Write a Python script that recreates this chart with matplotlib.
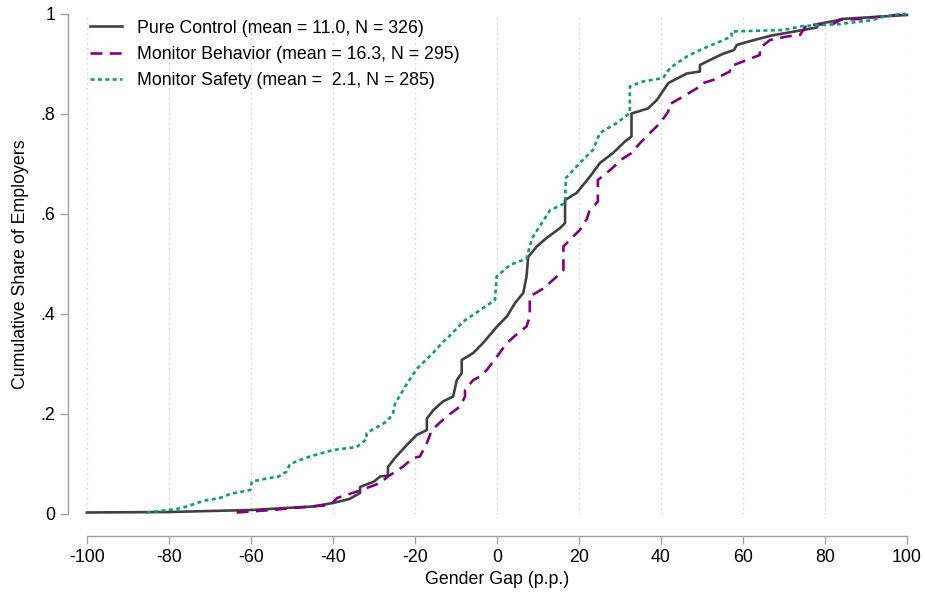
import matplotlib
matplotlib.use("Agg")
import matplotlib.pyplot as plt

plt.rcParams['font.family'] = ['Liberation Sans', 'DejaVu Sans']

series_names = ["Pure Control (mean = 11.0, N = 326)",
                "Monitor Behavior (mean = 16.3, N = 295)",
                "Monitor Safety (mean =  2.1, N = 285)"]

control_x = [-100, -80, -60, -45, -40, -36, -33.4, -33.4, -30, -28.5, -26.6, -26.6, -24.9, -22, -19.6,
             -17.1, -17.1, -15.5, -13.2, -10.7, -9.8, -8.6, -8.6, -5.8, -3.4, 0, 2.4, 4.4, 6.4, 7.2, 7.6,
             9.7, 12.1, 15.4, 16.6, 16.6, 19.4, 22.7, 25.1, 28.3, 31.2, 32.8, 32.8, 36.8, 39, 41.8, 46.3,
             49.5, 49.5, 52.7, 55, 57.8, 58.5, 60.5, 63.7, 67, 73.9, 78, 78.3, 82.8, 84, 100]
control_y = [.003, .004, .008, .015, .022, .03, .042, .054, .065, .075, .077, .094, .112, .138, .158,
             .168, .191, .208, .225, .235, .268, .282, .308, .322, .342, .375, .395, .422, .442, .475, .514,
             .535, .552, .572, .582, .628, .642, .675, .702, .722, .745, .755, .801, .811, .828, .862, .881,
             .885, .898, .911, .92, .928, .938, .943, .95, .957, .967, .973, .98, .987, .99, .998]

behavior_x = [-63.5, -55, -49.7, -40.7, -39, -33.4, -28.5, -26.6, -22.9, -20.5, -18.8, -17.1, -15.9, -12.3,
              -9, -7.8, -7.8, -5.8, -4.1, -2.5, 0, 2.4, 5.6, 7.2, 8, 8, 11.3, 14.6, 16.2, 16.2, 18.6, 20.2,
              21.9, 22.5, 24.6, 24.6, 27.6, 30.7, 32.8, 34.9, 37.3, 39.8, 41.8, 41.8, 45.4, 48.7, 49.9,
              52.7, 56.8, 56.8, 60, 64.1, 64.1, 66.6, 70.7, 73.9, 75.5, 82, 83.7, 88, 95, 100]
behavior_y = [.003, .008, .012, .018, .032, .047, .062, .075, .095, .112, .115, .142, .168, .195,
              .215, .235, .248, .268, .275, .288, .315, .342, .365, .375, .395, .435, .451, .475, .488, .535, .555, .568,
              .59, .605, .625, .668, .688, .711, .722, .742, .762, .782, .805, .818, .835, .851, .861,
              .868, .885, .895, .905, .918, .932, .948, .955, .958, .978, .98, .988, .99, .996, 1.0]

safety_x = [-85.4, -82.2, -78.1, -75.7, -73.2, -71.2, -67.6, -65.1, -60.2, -59.8, -56.2, -53.3, -51.3, -50.5,
            -48, -45.6, -40, -34.2, -31.8, -31.8, -26.9, -25.4, -24.9, -22, -19.6, -15.6, -13.1, -12.3, -8.2,
            -4.1, -0.5, -0.1, 3.2, 7.2, 8.5, 12.9, 16.6, 16.8, 20.2, 23.4, 25.1, 29.2, 32.4, 32.4, 35.6,
            40.5, 42.2, 46.3, 49.5, 54.4, 57.2, 57.2, 69.8, 74.6, 83.7, 91.7, 93.4, 98.3, 100]
safety_y = [.003, .006, .01, .015, .022, .027, .032, .04, .048, .065, .071, .075, .085, .1,
            .108, .115, .128, .134, .15, .162, .185, .2, .22, .26, .29, .322, .345, .35, .385,
            .408, .428, .475, .498, .511, .551, .607, .622, .672, .702, .728, .762, .782, .802, .855, .865,
            .872, .892, .915, .928, .945, .955, .965, .968, .976, .98, .988, .993, 1.0, 1.0]

x_ticks = [-100, -80, -60, -40, -20, 0, 20, 40, 60, 80, 100]
y_ticks = [0, .2, .4, .6, .8, 1]
y_ticklabels = ["0", ".2", ".4", ".6", ".8", "1"]

FS = 12.8

fig = plt.figure(figsize=(9.25, 5.95), dpi=100)
ax = fig.add_axes([87/925, (595-514)/595, 820/925, 500/595])

lw = 1.9
ax.plot(control_x, control_y, color="#404040", lw=lw, label=series_names[0], clip_on=False, zorder=3)
ax.plot(behavior_x, behavior_y, color="#800080", lw=lw, dashes=(4.5, 2.8), label=series_names[1],
        clip_on=False, zorder=3)
ax.plot(safety_x, safety_y, color="#0f9b78", lw=lw, dashes=(1.5, 1.3), label=series_names[2],
        clip_on=False, zorder=3)

ax.set_xlim(-100, 100)
ax.set_ylim(0, 1)
ax.set_xticks(x_ticks)
ax.set_xticklabels([str(t) for t in x_ticks])
ax.set_yticks(y_ticks)
ax.set_yticklabels(y_ticklabels)

for v in x_ticks:
    ax.axvline(v, color="#c8c8c8", lw=0.9, ls=(0, (1, 3)), zorder=1)

for s in ["top", "right"]:
    ax.spines[s].set_visible(False)
ax.spines["left"].set_position(("outward", 14))
ax.spines["bottom"].set_position(("outward", 16))
for s in ["left", "bottom"]:
    ax.spines[s].set_color("#a0a0a0")
    ax.spines[s].set_linewidth(1.0)
ax.tick_params(axis="both", colors="#a0a0a0", length=6, width=1.0, labelsize=FS, labelcolor="black")
ax.tick_params(axis="y", pad=3)
ax.tick_params(axis="x", pad=3)

ax.set_xlabel("Gender Gap (p.p.)", fontsize=FS, labelpad=4)
ax.set_ylabel("Cumulative Share of Employers", fontsize=FS, labelpad=8)

leg = ax.legend(loc="upper left", bbox_to_anchor=(-0.001, 0.996), frameon=False, fontsize=FS,
                handlelength=1.8, handletextpad=0.85, labelspacing=0.53, borderaxespad=0.0,
                borderpad=0.2)

fig.savefig("out.png", dpi=100)
